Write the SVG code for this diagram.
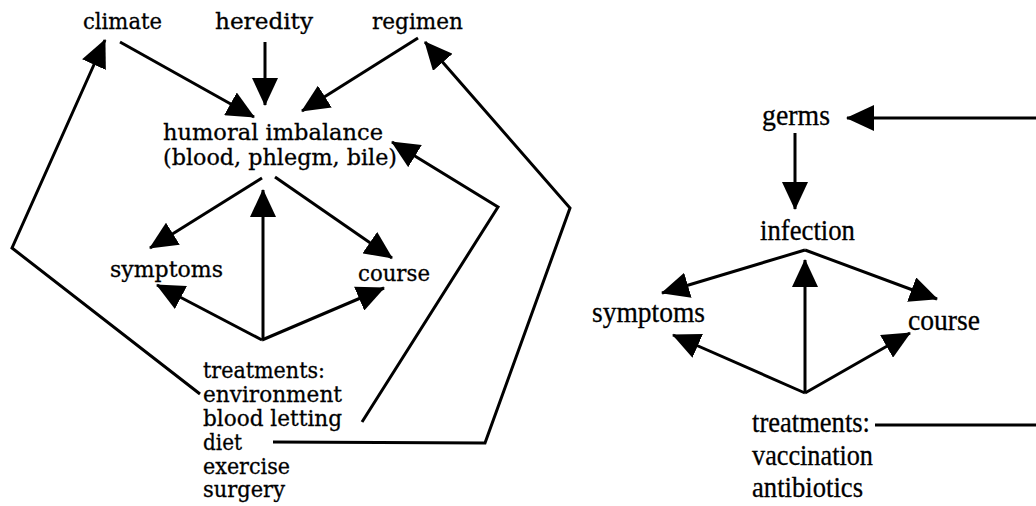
<svg xmlns="http://www.w3.org/2000/svg" width="1036" height="506" viewBox="0 0 1036 506">
<style>
.l{font-family:"DejaVu Serif","Liberation Serif",serif;font-size:22px;fill:#000;stroke:#000;stroke-width:0.3}
.r{font-family:"Liberation Serif","Times New Roman",serif;font-size:30px;fill:#000;stroke:#000;stroke-width:0.3}
.c{fill:none;stroke:#000;stroke-width:3;stroke-linejoin:miter}
.a{marker-end:url(#ah)}
</style>
<defs>
<marker id="ah" markerUnits="userSpaceOnUse" viewBox="0 0 28 26" refX="27" refY="13" markerWidth="28" markerHeight="26" orient="auto">
<path d="M0,0 L28,13 L0,26 z" fill="#000"/>
</marker>
</defs>
<rect width="1036" height="506" fill="#fff"/>
<g id="connectors">
<line class="c a" x1="120" y1="42" x2="254" y2="117"/>
<line class="c a" x1="265" y1="42" x2="265" y2="105"/>
<line class="c a" x1="418" y1="38" x2="302" y2="111"/>
<line class="c a" x1="262" y1="178" x2="150" y2="248"/>
<line class="c a" x1="275" y1="177" x2="392" y2="258"/>
<line class="c a" x1="263" y1="340" x2="263" y2="190"/>
<line class="c a" x1="262" y1="340" x2="157" y2="285"/>
<line class="c a" x1="262" y1="340" x2="384" y2="288"/>
<polyline class="c a" points="200,394 12,248 105,40"/>
<polyline class="c a" points="362,422 498,207 392,142"/>
<polyline class="c a" points="273,442 485,443 570,208 425,42"/>
<line class="c a" x1="1036" y1="118" x2="847" y2="118"/>
<line class="c a" x1="795" y1="133" x2="795" y2="209"/>
<line class="c a" x1="805" y1="250" x2="662" y2="293"/>
<line class="c a" x1="805" y1="250" x2="937" y2="299"/>
<line class="c a" x1="805" y1="393" x2="805" y2="260"/>
<line class="c a" x1="805" y1="393" x2="673" y2="335"/>
<line class="c a" x1="805" y1="393" x2="910" y2="333"/>
<line class="c" x1="875" y1="425" x2="1036" y2="425"/>
</g>
<g id="climate"><text class="l" x="83" y="29" textLength="79" lengthAdjust="spacingAndGlyphs">climate</text></g>
<g id="heredity"><text class="l" x="215" y="29" textLength="98" lengthAdjust="spacingAndGlyphs">heredity</text></g>
<g id="regimen"><text class="l" x="372" y="29" textLength="91" lengthAdjust="spacingAndGlyphs">regimen</text></g>
<g id="humoral-imbalance">
<text class="l" x="163" y="140" textLength="220" lengthAdjust="spacingAndGlyphs">humoral imbalance</text>
<text class="l" x="163" y="165" textLength="234" lengthAdjust="spacingAndGlyphs">(blood, phlegm, bile)</text>
</g>
<g id="symptoms-left"><text class="l" x="110" y="277" textLength="113" lengthAdjust="spacingAndGlyphs">symptoms</text></g>
<g id="course-left"><text class="l" x="358" y="281" textLength="72" lengthAdjust="spacingAndGlyphs">course</text></g>
<g id="treatments-left">
<text class="l" x="203" y="378" textLength="122" lengthAdjust="spacingAndGlyphs">treatments:</text>
<text class="l" x="203" y="402" textLength="139" lengthAdjust="spacingAndGlyphs">environment</text>
<text class="l" x="203" y="426" textLength="139" lengthAdjust="spacingAndGlyphs">blood letting</text>
<text class="l" x="203" y="450" textLength="39" lengthAdjust="spacingAndGlyphs">diet</text>
<text class="l" x="203" y="474" textLength="87" lengthAdjust="spacingAndGlyphs">exercise</text>
<text class="l" x="203" y="497" textLength="82" lengthAdjust="spacingAndGlyphs">surgery</text>
</g>
<g id="germs"><text class="r" x="762" y="125" textLength="68" lengthAdjust="spacingAndGlyphs">germs</text></g>
<g id="infection"><text class="r" x="760" y="240" textLength="95" lengthAdjust="spacingAndGlyphs">infection</text></g>
<g id="symptoms-right"><text class="r" x="592" y="322" textLength="113" lengthAdjust="spacingAndGlyphs">symptoms</text></g>
<g id="course-right"><text class="r" x="908" y="330" textLength="72" lengthAdjust="spacingAndGlyphs">course</text></g>
<g id="treatments-right">
<text class="r" x="752" y="432" textLength="118" lengthAdjust="spacingAndGlyphs">treatments:</text>
<text class="r" x="752" y="465" textLength="121" lengthAdjust="spacingAndGlyphs">vaccination</text>
<text class="r" x="752" y="497" textLength="111" lengthAdjust="spacingAndGlyphs">antibiotics</text>
</g>
</svg>
